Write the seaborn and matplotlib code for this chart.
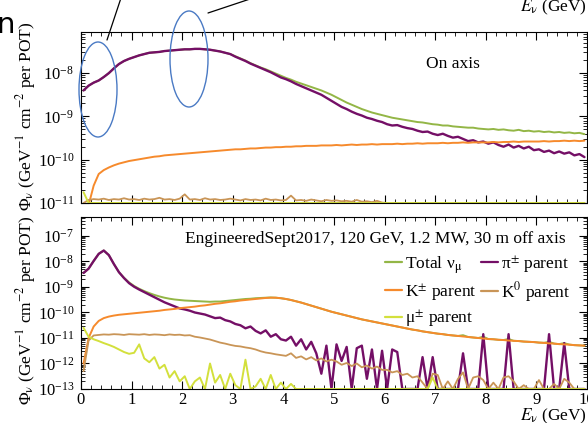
import numpy as np
import pandas as pd
import matplotlib
matplotlib.use("Agg")
import matplotlib.pyplot as plt
import seaborn as sns
from matplotlib.lines import Line2D
from matplotlib.patches import Ellipse
from matplotlib.ticker import MultipleLocator, LogLocator, NullFormatter

# ---------------------------------------------------------------------------
# Flux histograms, 0.1 GeV bins from 0 to 10 GeV, stored as log10(flux)
# ---------------------------------------------------------------------------
bin_width = 0.1
bin_centers = np.arange(100) * bin_width + bin_width / 2

# On-axis panel
top_total = [
    -8.40, -8.29, -8.22, -8.17, -8.09, -8.00, -7.89, -7.79, -7.72, -7.67,
    -7.63, -7.59, -7.56, -7.53, -7.52, -7.51, -7.49, -7.48, -7.47, -7.46,
    -7.45, -7.45, -7.44, -7.44, -7.45, -7.46, -7.48, -7.50, -7.53, -7.56,
    -7.61, -7.66, -7.71, -7.77, -7.82, -7.87, -7.91, -7.96, -8.01, -8.06,
    -8.11, -8.15, -8.20, -8.24, -8.28, -8.32, -8.36, -8.40, -8.45, -8.50,
    -8.56, -8.62, -8.68, -8.73, -8.78, -8.83, -8.87, -8.91, -8.94, -8.97,
    -9.00, -9.03, -9.05, -9.07, -9.09, -9.11, -9.13, -9.14, -9.16, -9.18,
    -9.19, -9.21, -9.21, -9.23, -9.24, -9.25, -9.26, -9.26, -9.28, -9.29,
    -9.30, -9.29, -9.31, -9.30, -9.32, -9.33, -9.31, -9.34, -9.33, -9.35,
    -9.34, -9.36, -9.35, -9.37, -9.36, -9.38, -9.37, -9.39, -9.38, -9.41,
]
top_pion = [
    -8.40, -8.29, -8.22, -8.17, -8.09, -8.00, -7.89, -7.79, -7.72, -7.67,
    -7.63, -7.59, -7.56, -7.53, -7.52, -7.51, -7.49, -7.48, -7.47, -7.46,
    -7.45, -7.45, -7.44, -7.44, -7.45, -7.46, -7.48, -7.50, -7.53, -7.56,
    -7.62, -7.67, -7.72, -7.78, -7.83, -7.88, -7.93, -7.98, -8.04, -8.10,
    -8.14, -8.19, -8.25, -8.30, -8.35, -8.40, -8.45, -8.50, -8.57, -8.64,
    -8.71, -8.78, -8.83, -8.89, -8.94, -8.98, -9.03, -9.06, -9.10, -9.13,
    -9.18, -9.21, -9.20, -9.24, -9.27, -9.29, -9.33, -9.36, -9.35, -9.40,
    -9.43, -9.40, -9.45, -9.49, -9.47, -9.52, -9.57, -9.55, -9.60, -9.58,
    -9.63, -9.60, -9.66, -9.70, -9.65, -9.72, -9.68, -9.74, -9.70, -9.78,
    -9.76, -9.82, -9.79, -9.85, -9.81, -9.86, -9.83, -9.90, -9.87, -9.94,
]
top_kaon = [
    -11.60, -11.05, -10.60, -10.33, -10.24, -10.18, -10.13, -10.09, -10.06, -10.03,
    -10.01, -9.99, -9.97, -9.95, -9.93, -9.92, -9.90, -9.89, -9.88, -9.87,
    -9.86, -9.85, -9.84, -9.83, -9.82, -9.81, -9.80, -9.79, -9.78, -9.77,
    -9.76, -9.76, -9.75, -9.74, -9.74, -9.73, -9.72, -9.72, -9.71, -9.71,
    -9.70, -9.70, -9.69, -9.69, -9.68, -9.68, -9.68, -9.67, -9.67, -9.67,
    -9.66, -9.67, -9.66, -9.65, -9.66, -9.65, -9.65, -9.64, -9.65, -9.64,
    -9.64, -9.64, -9.63, -9.64, -9.63, -9.63, -9.62, -9.63, -9.62, -9.62,
    -9.62, -9.61, -9.62, -9.61, -9.61, -9.60, -9.61, -9.60, -9.60, -9.60,
    -9.60, -9.59, -9.60, -9.59, -9.59, -9.58, -9.59, -9.58, -9.58, -9.58,
    -9.58, -9.57, -9.58, -9.57, -9.57, -9.56, -9.57, -9.56, -9.57, -9.56,
]
top_k0 = [
    -11.00, -10.93, -10.91, -10.92, -10.90, -10.93, -10.91, -10.92, -10.89, -10.92,
    -10.91, -10.93, -10.90, -10.92, -10.91, -10.88, -10.92, -10.91, -10.93, -10.90,
    -10.80, -10.92, -10.91, -10.93, -10.89, -10.92, -10.91, -10.93, -10.92, -10.90,
    -10.92, -10.94, -10.91, -10.93, -10.92, -10.94, -10.90, -10.93, -10.92, -10.94,
    -10.93, -10.83, -10.94, -10.93, -10.95, -10.92, -10.94, -10.96, -10.93, -10.95,
    -10.94, -10.96, -10.95, -10.97, -10.93, -10.97, -10.96, -10.98, -10.95, -10.99,
    -11.00, -11.00, -11.00, -11.00, -11.00, -11.00, -11.00, -11.00, -11.00, -11.00,
    -11.00, -11.00, -11.00, -11.00, -11.00, -11.00, -11.00, -11.00, -11.00, -11.00,
    -11.00, -11.00, -11.00, -11.00, -11.00, -11.00, -11.00, -11.00, -11.00, -11.00,
    -11.00, -11.00, -11.00, -11.00, -11.00, -11.00, -11.00, -11.00, -11.00, -11.00,
]
top_muon = [
    -10.75, -11.00, -11.00, -11.00, -11.00, -11.00, -11.00, -11.00, -11.00, -11.00,
    -11.00, -11.00, -11.00, -11.00, -11.00, -11.00, -11.00, -11.00, -11.00, -11.00,
    -11.00, -11.00, -11.00, -11.00, -11.00, -11.00, -11.00, -11.00, -11.00, -11.00,
    -11.00, -11.00, -11.00, -11.00, -11.00, -11.00, -11.00, -11.00, -11.00, -11.00,
    -11.00, -11.00, -11.00, -11.00, -11.00, -11.00, -11.00, -11.00, -11.00, -11.00,
    -11.00, -11.00, -11.00, -11.00, -11.00, -11.00, -11.00, -11.00, -11.00, -11.00,
    -11.00, -11.00, -11.00, -11.00, -11.00, -11.00, -11.00, -11.00, -11.00, -11.00,
    -11.00, -11.00, -11.00, -11.00, -11.00, -11.00, -11.00, -11.00, -11.00, -11.00,
    -11.00, -11.00, -11.00, -11.00, -11.00, -11.00, -11.00, -11.00, -11.00, -11.00,
    -11.00, -11.00, -11.00, -11.00, -11.00, -11.00, -11.00, -11.00, -11.00, -11.00,
]

# 30 m off-axis panel
bot_total = [
    -8.45, -8.28, -7.98, -7.70, -7.57, -7.75, -8.10, -8.42, -8.64, -8.82,
    -8.96, -9.07, -9.16, -9.24, -9.31, -9.37, -9.42, -9.46, -9.49, -9.51,
    -9.53, -9.54, -9.55, -9.56, -9.57, -9.58, -9.57, -9.57, -9.55, -9.53,
    -9.51, -9.49, -9.47, -9.46, -9.44, -9.43, -9.42, -9.41, -9.42, -9.44,
    -9.47, -9.51, -9.56, -9.61, -9.67, -9.73, -9.79, -9.85, -9.91, -9.97,
    -10.02, -10.07, -10.12, -10.17, -10.22, -10.27, -10.31, -10.35, -10.39, -10.43,
    -10.47, -10.51, -10.55, -10.59, -10.63, -10.67, -10.70, -10.74, -10.77, -10.80,
    -10.83, -10.85, -10.88, -10.90, -10.92, -10.89, -10.96, -10.98, -11.00, -10.95,
    -11.04, -11.05, -11.07, -11.08, -11.04, -11.11, -11.12, -11.14, -11.15, -11.16,
    -11.18, -11.19, -11.15, -11.22, -11.24, -11.20, -11.26, -11.28, -11.29, -11.30,
]
bot_pion = [
    -8.45, -8.28, -7.98, -7.70, -7.57, -7.75, -8.10, -8.42, -8.65, -8.85,
    -8.99, -9.10, -9.20, -9.30, -9.40, -9.50, -9.60, -9.68, -9.76, -9.84,
    -9.88, -9.93, -10.00, -10.04, -10.08, -10.15, -10.22, -10.20, -10.30, -10.35,
    -10.45, -10.50, -10.62, -10.55, -10.72, -10.82, -10.70, -10.95, -10.85, -11.05,
    -11.10, -10.95, -11.30, -11.05, -11.45, -11.15, -11.60, -12.40, -11.30, -13.00,
    -11.25, -11.90, -11.35, -13.00, -11.40, -11.30, -12.60, -11.45, -13.00, -11.50,
    -13.00, -11.45, -11.55, -13.00, -13.00, -13.00, -13.00, -11.75, -13.00, -11.75,
    -13.00, -13.00, -13.00, -13.00, -13.00, -11.60, -13.00, -13.00, -13.00, -10.85,
    -13.00, -13.00, -13.00, -13.00, -10.85, -13.00, -13.00, -13.00, -13.00, -13.00,
    -13.00, -13.00, -10.85, -13.00, -13.00, -11.20, -13.00, -13.00, -13.00, -13.00,
]
bot_kaon = [
    -12.00, -11.00, -10.55, -10.33, -10.22, -10.16, -10.12, -10.09, -10.07, -10.05,
    -10.03, -10.01, -9.99, -9.97, -9.95, -9.93, -9.90, -9.88, -9.86, -9.83,
    -9.81, -9.79, -9.77, -9.74, -9.72, -9.69, -9.66, -9.64, -9.61, -9.58,
    -9.56, -9.53, -9.51, -9.49, -9.47, -9.45, -9.43, -9.42, -9.42, -9.44,
    -9.47, -9.51, -9.56, -9.61, -9.67, -9.73, -9.79, -9.85, -9.91, -9.97,
    -10.02, -10.07, -10.12, -10.17, -10.22, -10.27, -10.31, -10.35, -10.39, -10.43,
    -10.47, -10.51, -10.55, -10.59, -10.63, -10.67, -10.70, -10.74, -10.77, -10.80,
    -10.83, -10.85, -10.88, -10.90, -10.92, -10.94, -10.96, -10.98, -11.00, -11.02,
    -11.04, -11.05, -11.07, -11.08, -11.10, -11.11, -11.12, -11.14, -11.15, -11.16,
    -11.18, -11.19, -11.21, -11.22, -11.24, -11.25, -11.26, -11.28, -11.29, -11.30,
]
bot_k0 = [
    -12.30, -11.10, -10.90, -10.88, -10.86, -10.87, -10.85, -10.86, -10.88, -10.85,
    -10.86, -10.87, -10.85, -10.88, -10.86, -10.87, -10.89, -10.86, -10.88, -10.87,
    -10.90, -10.89, -10.95, -10.98, -11.02, -11.06, -11.12, -11.18, -11.22, -11.27,
    -11.31, -11.33, -11.37, -11.40, -11.45, -11.52, -11.57, -11.60, -11.64, -11.67,
    -11.70, -11.60, -11.78, -11.72, -11.84, -11.75, -11.88, -11.80, -11.92, -11.85,
    -11.92, -12.05, -11.98, -12.10, -12.00, -12.15, -12.08, -12.20, -12.12, -12.25,
    -12.25, -12.35, -12.30, -12.45, -12.40, -12.55, -12.50, -12.75, -13.00, -12.40,
    -12.45, -13.00, -12.70, -13.00, -12.60, -12.35, -13.00, -12.55, -12.50, -12.65,
    -13.00, -12.75, -13.00, -12.55, -12.50, -12.70, -13.00, -12.85, -13.00, -13.00,
    -12.65, -13.00, -13.00, -12.80, -13.00, -12.60, -12.75, -13.00, -13.00, -13.00,
]
bot_muon = [
    -10.60, -10.95, -11.05, -11.12, -11.20, -11.27, -11.35, -11.45, -11.55, -11.62,
    -11.58, -11.25, -11.80, -11.95, -11.75, -12.20, -12.05, -12.55, -12.30, -12.70,
    -12.50, -13.00, -12.70, -12.55, -13.00, -12.00, -12.75, -12.45, -13.00, -12.40,
    -12.85, -13.00, -11.85, -13.00, -12.90, -12.60, -13.00, -12.45, -13.00, -12.75,
    -13.00, -12.80, -13.00, -13.00, -13.00, -13.00, -13.00, -13.00, -13.00, -13.00,
    -13.00, -13.00, -13.00, -13.00, -13.00, -13.00, -13.00, -13.00, -13.00, -13.00,
    -13.00, -13.00, -13.00, -13.00, -13.00, -13.00, -13.00, -13.00, -13.00, -12.55,
    -13.00, -13.00, -13.00, -13.00, -13.00, -13.00, -13.00, -13.00, -13.00, -13.00,
    -13.00, -13.00, -13.00, -13.00, -13.00, -13.00, -13.00, -13.00, -13.00, -13.00,
    -13.00, -13.00, -13.00, -13.00, -13.00, -13.00, -13.00, -13.00, -13.00, -13.00,
]

series_labels = {
    "total": "Total ν$_{\\mathrm{μ}}$",
    "pion": "π$^{\\pm}$ parent",
    "kaon": "K$^{\\pm}$ parent",
    "k0": "K$^{0}$ parent",
    "muon": "μ$^{\\pm}$ parent",
}
series_colors = {
    "total": "#93b646",
    "pion": "#740f66",
    "kaon": "#f68a2c",
    "k0": "#c99557",
    "muon": "#d3e03c",
}
series_widths = {"total": 1.4, "pion": 1.7, "kaon": 1.4, "k0": 1.3, "muon": 1.4}
draw_order = ["total", "pion", "kaon", "k0", "muon"]

panels = {
    "top": {"total": top_total, "pion": top_pion, "kaon": top_kaon,
            "k0": top_k0, "muon": top_muon},
    "bot": {"total": bot_total, "pion": bot_pion, "kaon": bot_kaon,
            "k0": bot_k0, "muon": bot_muon},
}

# ---------------------------------------------------------------------------
sns.set_theme(style="ticks")
plt.rcParams.update({
    "font.family": ["Liberation Serif", "DejaVu Serif"],
    "mathtext.fontset": "stix",
    "axes.linewidth": 0.8,
    "axes.edgecolor": "black",
    "xtick.color": "black",
    "ytick.color": "black",
    "text.color": "black",
    "axes.labelcolor": "black",
})

W, H = 588, 423
fig = plt.figure(figsize=(W / 100, H / 100), dpi=100)
fig.patch.set_facecolor("white")

left, right = 81, 587
ax_top = fig.add_axes([left / W, 1 - 203 / H, (right - left) / W, (203 - 32) / H])
ax_bot = fig.add_axes([left / W, 1 - 389 / H, (right - left) / W, (389 - 217) / H])


def draw_panel(ax, values):
    frame = pd.DataFrame({"E": bin_centers})
    for key in draw_order:
        frame[key] = 10.0 ** np.asarray(values[key])
        sns.lineplot(data=frame, x="E", y=key, ax=ax, color=series_colors[key],
                     linewidth=series_widths[key], estimator=None, legend=False)
    ax.set_yscale("log")
    ax.set_xlim(0, 10)
    ax.xaxis.set_major_locator(MultipleLocator(1))
    ax.xaxis.set_minor_locator(MultipleLocator(0.2))
    ax.yaxis.set_major_locator(LogLocator(base=10, numticks=30))
    ax.yaxis.set_minor_locator(LogLocator(base=10, subs=np.arange(2, 10), numticks=30))
    ax.yaxis.set_minor_formatter(NullFormatter())
    ax.tick_params(which="both", direction="in", top=True, right=True)
    ax.tick_params(which="major", length=6, width=0.8, labelsize=12)
    ax.tick_params(which="minor", length=3, width=0.6)
    ax.tick_params(axis="y", which="major", pad=5)
    ax.tick_params(axis="x", which="major", pad=2)
    ax.set_ylabel("Φ$_{\\mathrm{ν}}$ (GeV$^{-1}$ cm$^{-2}$ per POT)", fontsize=12.5)
    ax.set_xlabel("")
    ax.grid(False)


draw_panel(ax_top, panels["top"])
ax_top.set_ylim(1e-11, 10 ** -7.05)
ax_top.tick_params(axis="x", labelbottom=False)
ax_top.yaxis.set_label_coords(-0.084, 0.51)
ax_top.text(0.735, 0.81, "On axis", transform=ax_top.transAxes,
            ha="center", va="center", fontsize=12.5)

draw_panel(ax_bot, panels["bot"])
ax_bot.set_ylim(1e-13, 10 ** -6.255)
ax_bot.yaxis.set_label_coords(-0.084, 0.46)
ax_bot.set_xlabel("$E_{\\mathrm{ν}}$ (GeV)", fontsize=12.5, loc="right", labelpad=-1)
ax_bot.text(0.958, 0.87, "EngineeredSept2017, 120 GeV, 1.2 MW, 30 m off axis",
            transform=ax_bot.transAxes, ha="right", va="center", fontsize=12.5)

legend_order = ["total", "kaon", "muon", "pion", "k0"]
handles = [Line2D([], [], color=series_colors[k], lw=1.6) for k in legend_order]
labels = [series_labels[k] for k in legend_order]
ax_bot.legend(handles, labels, ncol=2, frameon=False, loc="upper left",
              bbox_to_anchor=(0.600, 0.79), fontsize=12.5, handlelength=1.0,
              handletextpad=0.2, columnspacing=0.2, labelspacing=0.3,
              borderpad=0, borderaxespad=0)

# Callout marks drawn over the on-axis panel
callout_blue = "#4a7ac4"
fig.add_artist(Ellipse((98 / W, 1 - 89.5 / H), 38 / W, 95 / H,
                       transform=fig.transFigure, fill=False,
                       edgecolor=callout_blue, linewidth=1.0))
fig.add_artist(Ellipse((189 / W, 1 - 59 / H), 38 / W, 96 / H,
                       transform=fig.transFigure, fill=False,
                       edgecolor=callout_blue, linewidth=1.0))
fig.add_artist(Line2D([107 / W, 121 / W], [1 - 40 / H, 1 + 2 / H],
                      transform=fig.transFigure, color="black", linewidth=0.9))
fig.add_artist(Line2D([208 / W, 250 / W], [1 - 13 / H, 1 + 1 / H],
                      transform=fig.transFigure, color="black", linewidth=0.9))

fig.text(-4 / W, 1 - 33 / H, "n", fontsize=21, family="DejaVu Sans",
         ha="left", va="baseline")
fig.text(587 / W, 1 - 11 / H, "$E_{\\mathrm{ν}}$ (GeV)", fontsize=12.5,
         ha="right", va="baseline")

fig.savefig("out.png", dpi=100, facecolor="white")
